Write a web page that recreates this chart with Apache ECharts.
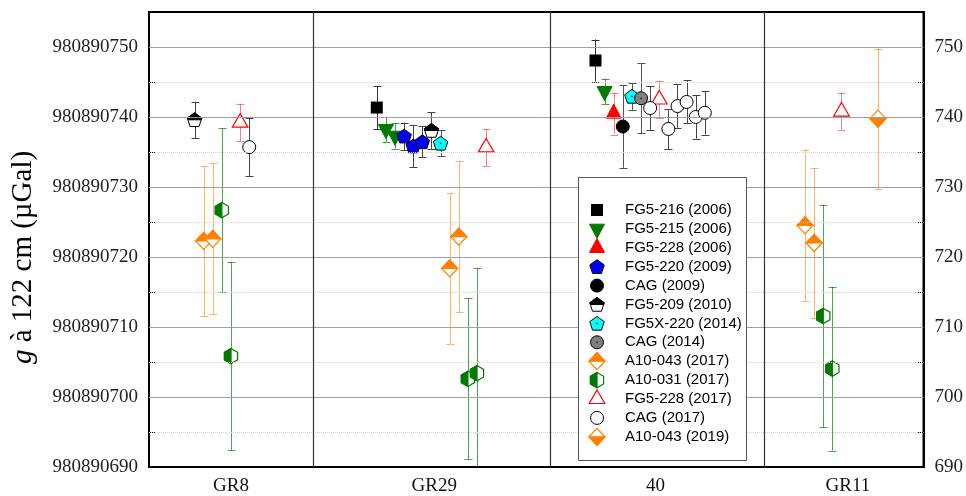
<!DOCTYPE html>
<html><head><meta charset="utf-8">
<script src="https://cdn.jsdelivr.net/npm/echarts@6/dist/echarts.min.js"></script>
<style>html,body{margin:0;padding:0;background:#fff}#c{width:966px;height:496px}</style>
</head><body><div id="c"></div>
<script>
// ---------- data ----------
const G0 = 980890000;               // µGal, left-axis prefix
const sites = ['GR8', 'GR29', '40', 'GR11'];
const yTickValues = [690, 700, 710, 720, 730, 740, 750];
// each point: [measurement index, g - 980890000 (µGal), uncertainty (µGal)]
const fg5_216_2006 = [[25, 741.35, 3.05], [49, 748.07, 3.0]];
const fg5_215_2006 = [[26, 738.26, 1.8], [27, 737.3, 1.8], [50, 743.68, 1.8]];
const fg5_228_2006 = [[51, 740.5, 3.0]];
const fg5_220_2009 = [[28, 737.26, 1.95], [29, 735.85, 3.0], [30, 736.45, 2.2]];
const cag_2009 = [[52, 738.64, 5.9]];
const fg5_209_2010 = [[5, 739.6, 2.6], [31, 738.07, 2.6]];
const fg5x_220_2014 = [[32, 736.24, 1.85], [53, 742.94, 1.9]];
const cag_2014 = [[54, 742.68, 5.0]];
const a10_043_2017 = [[6, 722.3, 10.7], [7, 722.6, 10.8], [33, 718.36, 10.75], [34, 722.9, 10.8], [72, 724.52, 10.78], [73, 722.0, 10.7]];
const a10_031_2017 = [[8, 726.7, 11.75], [9, 705.85, 13.45], [35, 702.6, 11.5], [36, 703.4, 15.1], [74, 711.57, 15.9], [75, 704.05, 11.7]];
const fg5_228_2017 = [[10, 739.2, 2.65], [37, 735.65, 2.65], [56, 742.5, 2.7], [76, 740.78, 2.6]];
const cag_2017 = [[11, 735.7, 4.1], [55, 741.28, 3.1], [57, 738.29, 2.85], [58, 741.56, 3.1], [59, 742.15, 3.07], [60, 740.0, 3.1], [61, 740.6, 3.1]];
const a10_043_2019 = [[80, 739.76, 10.0]];

// ---------- layout / style ----------
const Y_MIN = 690, Y_MAX = 755;
const X_MIN = 0, X_MAX = 85;
const siteLabelPos = [9, 31.3, 55.6, 76.7];
const siteBounds = [18, 44, 67.5];

const entries = [
  {name: 'FG5-216 (2006)', data: fg5_216_2006, kind: 'square', color: '#000', bar: '#333'},
  {name: 'FG5-215 (2006)', data: fg5_215_2006, kind: 'triDown', color: '#007a00', bar: 'rgba(0,128,0,0.75)'},
  {name: 'FG5-228 (2006)', data: fg5_228_2006, kind: 'triUp', color: '#ff0000', bar: 'rgba(255,0,0,0.5)'},
  {name: 'FG5-220 (2009)', data: fg5_220_2009, kind: 'pent', color: '#0000ff', bar: '#444'},
  {name: 'CAG (2009)', data: cag_2009, kind: 'circle', color: '#000', bar: '#555'},
  {name: 'FG5-209 (2010)', data: fg5_209_2010, kind: 'pentHalf', color: '#000', bar: '#444'},
  {name: 'FG5X-220 (2014)', data: fg5x_220_2014, kind: 'pent', color: '#00ffff', bar: '#555'},
  {name: 'CAG (2014)', data: cag_2014, kind: 'circleDot', color: '#808080', bar: '#555'},
  {name: 'A10-043 (2017)', data: a10_043_2017, kind: 'diaTop', color: '#ff8000', bar: 'rgba(255,128,0,0.6)'},
  {name: 'A10-031 (2017)', data: a10_031_2017, kind: 'hexLeft', color: '#007a00', bar: 'rgba(0,128,0,0.7)'},
  {name: 'FG5-228 (2017)', data: fg5_228_2017, kind: 'triOpen', color: '#ff0000', bar: 'rgba(255,0,0,0.5)'},
  {name: 'CAG (2017)', data: cag_2017, kind: 'circleOpen', color: '#000', bar: '#444'},
  {name: 'A10-043 (2019)', data: a10_043_2019, kind: 'diaBot', color: '#ff8000', bar: 'rgba(255,128,0,0.6)'}
];

// ---------- symbol drawing ----------
function regPoly(n, R, cx, cy) {
  const pts = [];
  for (let k = 0; k < n; k++) {
    const a = -Math.PI / 2 + k * 2 * Math.PI / n;
    pts.push([cx + R * Math.cos(a), cy + R * Math.sin(a)]);
  }
  return pts;
}
function clipPoly(pts, axis, val, keepLess) {
  const inside = p => keepLess ? p[axis] <= val : p[axis] >= val;
  const out = [];
  for (let i = 0; i < pts.length; i++) {
    const a = pts[i], b = pts[(i + 1) % pts.length];
    const ia = inside(a), ib = inside(b);
    if (ia) out.push(a);
    if (ia !== ib) {
      const t = (val - a[axis]) / (b[axis] - a[axis]);
      out.push([a[0] + t * (b[0] - a[0]), a[1] + t * (b[1] - a[1])]);
    }
  }
  return out;
}
function pg(points, style) { return {type: 'polygon', shape: {points: points}, style: style}; }
function symbolEls(kind, cx, cy, color) {
  switch (kind) {
    case 'square':
      return [{type: 'rect', shape: {x: cx - 6, y: cy - 6, width: 12, height: 12}, style: {fill: color}}];
    case 'triDown':
      return [pg([[cx - 7.5, cy - 4.7], [cx + 7.5, cy - 4.7], [cx, cy + 9.4]], {fill: color, stroke: color, lineWidth: 1})];
    case 'triUp':
      return [pg([[cx, cy - 9.4], [cx + 7.5, cy + 4.7], [cx - 7.5, cy + 4.7]], {fill: color, stroke: color, lineWidth: 1})];
    case 'triOpen':
      return [pg([[cx, cy - 9], [cx + 7.8, cy + 4.5], [cx - 7.8, cy + 4.5]], {fill: '#fff', stroke: color, lineWidth: 1.2})];
    case 'pent':
      return [pg(regPoly(5, 7.6, cx, cy + 0.6), {fill: color, stroke: '#000', lineWidth: 1}),
              {type: 'circle', shape: {cx: cx, cy: cy, r: 0.8}, style: {fill: '#000'}}];
    case 'pentHalf': {
      const p = regPoly(5, 7.6, cx, cy + 0.6);
      return [pg(p, {fill: '#fff', stroke: '#000', lineWidth: 1}),
              pg(clipPoly(p, 1, cy, true), {fill: '#000', stroke: '#000', lineWidth: 1})];
    }
    case 'circle':
      return [{type: 'circle', shape: {cx: cx, cy: cy, r: 6.5}, style: {fill: color, stroke: '#000', lineWidth: 1}}];
    case 'circleDot':
      return [{type: 'circle', shape: {cx: cx, cy: cy, r: 6.5}, style: {fill: color, stroke: '#000', lineWidth: 1}},
              {type: 'circle', shape: {cx: cx, cy: cy, r: 0.8}, style: {fill: '#000'}}];
    case 'circleOpen':
      return [{type: 'circle', shape: {cx: cx, cy: cy, r: 6.5}, style: {fill: '#fff', stroke: '#000', lineWidth: 1}}];
    case 'diaTop':
    case 'diaBot': {
      const p = [[cx, cy - 8.5], [cx + 8, cy], [cx, cy + 8.5], [cx - 8, cy]];
      return [pg(p, {fill: '#fff', stroke: color, lineWidth: 1.2}),
              pg(clipPoly(p, 1, cy, kind === 'diaTop'), {fill: color, stroke: color, lineWidth: 1.2})];
    }
    case 'hexLeft': {
      const p = regPoly(6, 7.6, cx, cy);
      return [pg(p, {fill: '#fff', stroke: color, lineWidth: 1.2}),
              pg(clipPoly(p, 0, cx, true), {fill: color, stroke: color, lineWidth: 1.2})];
    }
  }
  return [];
}

function barRender(color) {
  return function (params, api) {
    const x = api.value(0), y = api.value(1), e = api.value(2);
    const hi = y + e, lo = y - e;
    const pHi = api.coord([x, Math.min(hi, Y_MAX)]);
    const pLo = api.coord([x, Math.max(lo, Y_MIN)]);
    const px = Math.round(pHi[0]) + 0.5;
    const st = {stroke: color, lineWidth: 1};
    const ch = [{type: 'line', shape: {x1: px, y1: pHi[1], x2: px, y2: pLo[1]}, style: st}];
    if (hi <= Y_MAX) ch.push({type: 'line', shape: {x1: px - 4, y1: Math.round(pHi[1]) + 0.5, x2: px + 4, y2: Math.round(pHi[1]) + 0.5}, style: st});
    if (lo >= Y_MIN) ch.push({type: 'line', shape: {x1: px - 4, y1: Math.round(pLo[1]) + 0.5, x2: px + 4, y2: Math.round(pLo[1]) + 0.5}, style: st});
    return {type: 'group', children: ch};
  };
}
function markerRender(kind, color) {
  return function (params, api) {
    const p = api.coord([api.value(0), api.value(1)]);
    return {type: 'group', children: symbolEls(kind, p[0], p[1], color)};
  };
}

// ---------- grid lines / separators ----------
const gridLines = [];
for (let v = 700; v <= 750; v += 10) gridLines.push({yAxis: v, lineStyle: {type: 'solid', color: '#a0a0a0', width: 1}});
for (let v = 695; v <= 745; v += 10) gridLines.push({yAxis: v, lineStyle: {type: 'dotted', color: '#d6d6d6', width: 1}});
siteBounds.forEach(b => gridLines.push({xAxis: b, lineStyle: {type: 'solid', color: '#333', width: 1.2}}));

const series = [{
  type: 'line', data: [], silent: true, z: 1,
  markLine: {silent: true, symbol: ['none', 'none'], label: {show: false}, animation: false, data: gridLines}
}];
entries.forEach(en => series.push({
  type: 'custom', name: en.name + ' err', data: en.data, encode: {x: 0, y: 1}, z: 2, silent: true,
  renderItem: barRender(en.bar)
}));
entries.forEach(en => series.push({
  type: 'custom', name: en.name, data: en.data, encode: {x: 0, y: 1}, z: 3, silent: true,
  renderItem: markerRender(en.kind, en.color)
}));

// ---------- legend (drawn) ----------
const legendEls = [{type: 'rect', shape: {x: 578.5, y: 177.5, width: 168, height: 283}, style: {fill: '#fff', stroke: '#555', lineWidth: 1}, z: 100}];
entries.forEach((en, i) => {
  const cy = 210 + i * 18.9;
  symbolEls(en.kind, 597, cy, en.color).forEach(el => { el.z = 101; legendEls.push(el); });
  legendEls.push({type: 'text', x: 625, y: cy, z: 101,
    style: {text: en.name, fontSize: 15, fontFamily: 'Liberation Sans', fill: '#000', verticalAlign: 'middle'}});
});

const chart = echarts.init(document.getElementById('c'), null, {renderer: 'canvas'});
chart.setOption({
  animation: false,
  backgroundColor: '#fff',
  grid: {left: 149, right: 42, top: 12, bottom: 29, show: true, borderColor: '#000', borderWidth: 2, backgroundColor: 'transparent'},
  xAxis: {
    type: 'value', min: X_MIN, max: X_MAX,
    axisLine: {show: true, onZero: false, lineStyle: {color: '#000', width: 2}},
    axisTick: {show: false},
    splitLine: {show: false},
    axisLabel: {
      customValues: siteLabelPos, margin: 10,
      formatter: v => { const i = siteLabelPos.indexOf(v); return i >= 0 ? sites[i] : ''; },
      fontFamily: 'Liberation Serif', fontSize: 19, color: '#111'
    }
  },
  yAxis: [{
    type: 'value', min: Y_MIN, max: Y_MAX, interval: 5, position: 'left',
    name: '{g|g} à 122 cm (µGal)', nameLocation: 'middle', nameGap: 111,
    nameTextStyle: {fontFamily: 'Liberation Serif', fontSize: 29, color: '#000', padding: [0, 36, 0, 0],
      rich: {g: {fontFamily: 'Liberation Serif', fontSize: 29, fontStyle: 'italic', color: '#000'}}},
    axisLine: {show: true, onZero: false, lineStyle: {color: '#000', width: 2}},
    axisTick: {show: true, inside: true, length: 6, lineStyle: {color: '#000', width: 1}},
    splitLine: {show: false},
    axisLabel: {
      margin: 11, fontFamily: 'Liberation Serif', fontSize: 19, color: '#222',
      formatter: v => (yTickValues.indexOf(v) >= 0 ? String(G0 + v) : '')
    }
  }, {
    type: 'value', min: Y_MIN, max: Y_MAX, interval: 5, position: 'right',
    axisLine: {show: true, onZero: false, lineStyle: {color: '#000', width: 2}},
    axisTick: {show: true, inside: true, length: 6, lineStyle: {color: '#000', width: 1}},
    splitLine: {show: false},
    axisLabel: {
      margin: 11, fontFamily: 'Liberation Serif', fontSize: 19, color: '#222',
      formatter: v => (yTickValues.indexOf(v) >= 0 ? String(v) : '')
    }
  }],
  graphic: {elements: legendEls},
  series: series
});
</script>
</body></html>
